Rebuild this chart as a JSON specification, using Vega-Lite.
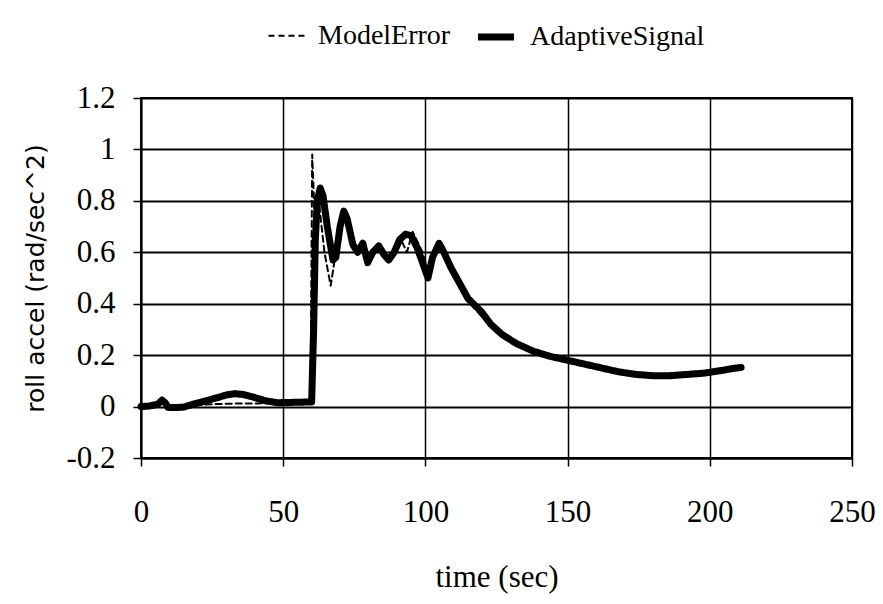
{
  "$schema": "https://vega.github.io/schema/vega-lite/v6.json",
  "width": 711,
  "height": 360,
  "autosize": {"type": "none"},
  "padding": {"left": 141, "top": 98, "right": 31, "bottom": 146},
  "background": "white",
  "config": {
    "view": {"stroke": "black", "strokeWidth": 2},
    "axis": {"gridColor": "black", "domainColor": "black", "tickColor": "black", "labelColor": "black", "titleColor": "black"}
  },
  "data": {
    "values": [
      {"series": "AdaptiveSignal", "t": 0, "v": 0},
      {"series": "AdaptiveSignal", "t": 3, "v": 0.002},
      {"series": "AdaptiveSignal", "t": 6, "v": 0.01},
      {"series": "AdaptiveSignal", "t": 7.4, "v": 0.025},
      {"series": "AdaptiveSignal", "t": 8.5, "v": 0.015},
      {"series": "AdaptiveSignal", "t": 9.5, "v": -0.003},
      {"series": "AdaptiveSignal", "t": 12, "v": -0.004},
      {"series": "AdaptiveSignal", "t": 15, "v": -0.002},
      {"series": "AdaptiveSignal", "t": 18, "v": 0.008},
      {"series": "AdaptiveSignal", "t": 22, "v": 0.02},
      {"series": "AdaptiveSignal", "t": 26, "v": 0.032},
      {"series": "AdaptiveSignal", "t": 30, "v": 0.045},
      {"series": "AdaptiveSignal", "t": 33, "v": 0.05},
      {"series": "AdaptiveSignal", "t": 36, "v": 0.047},
      {"series": "AdaptiveSignal", "t": 40, "v": 0.035},
      {"series": "AdaptiveSignal", "t": 44, "v": 0.022},
      {"series": "AdaptiveSignal", "t": 48, "v": 0.015},
      {"series": "AdaptiveSignal", "t": 52, "v": 0.016},
      {"series": "AdaptiveSignal", "t": 56, "v": 0.017},
      {"series": "AdaptiveSignal", "t": 60, "v": 0.018},
      {"series": "AdaptiveSignal", "t": 60.7, "v": 0.3},
      {"series": "AdaptiveSignal", "t": 61.3, "v": 0.65},
      {"series": "AdaptiveSignal", "t": 62, "v": 0.8},
      {"series": "AdaptiveSignal", "t": 63, "v": 0.85},
      {"series": "AdaptiveSignal", "t": 64, "v": 0.82},
      {"series": "AdaptiveSignal", "t": 65.5, "v": 0.7},
      {"series": "AdaptiveSignal", "t": 67.5, "v": 0.57},
      {"series": "AdaptiveSignal", "t": 68.5, "v": 0.58},
      {"series": "AdaptiveSignal", "t": 70, "v": 0.7},
      {"series": "AdaptiveSignal", "t": 71.3, "v": 0.76},
      {"series": "AdaptiveSignal", "t": 72.5, "v": 0.73},
      {"series": "AdaptiveSignal", "t": 74.5, "v": 0.63},
      {"series": "AdaptiveSignal", "t": 76.2, "v": 0.6},
      {"series": "AdaptiveSignal", "t": 78, "v": 0.635},
      {"series": "AdaptiveSignal", "t": 79.7, "v": 0.56},
      {"series": "AdaptiveSignal", "t": 81.5, "v": 0.6},
      {"series": "AdaptiveSignal", "t": 83.6, "v": 0.625},
      {"series": "AdaptiveSignal", "t": 85.5, "v": 0.59},
      {"series": "AdaptiveSignal", "t": 87.1, "v": 0.57},
      {"series": "AdaptiveSignal", "t": 89, "v": 0.6},
      {"series": "AdaptiveSignal", "t": 91, "v": 0.65},
      {"series": "AdaptiveSignal", "t": 93, "v": 0.67},
      {"series": "AdaptiveSignal", "t": 95, "v": 0.665},
      {"series": "AdaptiveSignal", "t": 97, "v": 0.62},
      {"series": "AdaptiveSignal", "t": 99, "v": 0.56},
      {"series": "AdaptiveSignal", "t": 100.9, "v": 0.5},
      {"series": "AdaptiveSignal", "t": 102.5, "v": 0.58},
      {"series": "AdaptiveSignal", "t": 104.8, "v": 0.635},
      {"series": "AdaptiveSignal", "t": 106.5, "v": 0.6},
      {"series": "AdaptiveSignal", "t": 109, "v": 0.54},
      {"series": "AdaptiveSignal", "t": 111.5, "v": 0.49},
      {"series": "AdaptiveSignal", "t": 115, "v": 0.42},
      {"series": "AdaptiveSignal", "t": 119.6, "v": 0.37},
      {"series": "AdaptiveSignal", "t": 123, "v": 0.32},
      {"series": "AdaptiveSignal", "t": 127, "v": 0.28},
      {"series": "AdaptiveSignal", "t": 132, "v": 0.245},
      {"series": "AdaptiveSignal", "t": 138, "v": 0.215},
      {"series": "AdaptiveSignal", "t": 144, "v": 0.195},
      {"series": "AdaptiveSignal", "t": 150, "v": 0.18},
      {"series": "AdaptiveSignal", "t": 156, "v": 0.165},
      {"series": "AdaptiveSignal", "t": 162, "v": 0.15},
      {"series": "AdaptiveSignal", "t": 168, "v": 0.135},
      {"series": "AdaptiveSignal", "t": 174, "v": 0.125},
      {"series": "AdaptiveSignal", "t": 180, "v": 0.12},
      {"series": "AdaptiveSignal", "t": 186, "v": 0.12},
      {"series": "AdaptiveSignal", "t": 192, "v": 0.125},
      {"series": "AdaptiveSignal", "t": 198, "v": 0.13},
      {"series": "AdaptiveSignal", "t": 204, "v": 0.14},
      {"series": "AdaptiveSignal", "t": 208, "v": 0.148},
      {"series": "AdaptiveSignal", "t": 211, "v": 0.152},
      {"series": "ModelError", "t": 0, "v": 0},
      {"series": "ModelError", "t": 6, "v": 0.01},
      {"series": "ModelError", "t": 7.4, "v": 0.025},
      {"series": "ModelError", "t": 9.5, "v": -0.003},
      {"series": "ModelError", "t": 15, "v": -0.002},
      {"series": "ModelError", "t": 20, "v": 0.006},
      {"series": "ModelError", "t": 27, "v": 0.01},
      {"series": "ModelError", "t": 34, "v": 0.012},
      {"series": "ModelError", "t": 41, "v": 0.012},
      {"series": "ModelError", "t": 48, "v": 0.015},
      {"series": "ModelError", "t": 56, "v": 0.017},
      {"series": "ModelError", "t": 59.6, "v": 0.018},
      {"series": "ModelError", "t": 60.2, "v": 0.98},
      {"series": "ModelError", "t": 61, "v": 0.75},
      {"series": "ModelError", "t": 62.5, "v": 0.8},
      {"series": "ModelError", "t": 64.5, "v": 0.6},
      {"series": "ModelError", "t": 66.7, "v": 0.47},
      {"series": "ModelError", "t": 68.5, "v": 0.6},
      {"series": "ModelError", "t": 71.3, "v": 0.75},
      {"series": "ModelError", "t": 74.5, "v": 0.62},
      {"series": "ModelError", "t": 76.2, "v": 0.6},
      {"series": "ModelError", "t": 78, "v": 0.63},
      {"series": "ModelError", "t": 79.7, "v": 0.56},
      {"series": "ModelError", "t": 83.6, "v": 0.62},
      {"series": "ModelError", "t": 87.1, "v": 0.57},
      {"series": "ModelError", "t": 91, "v": 0.66},
      {"series": "ModelError", "t": 93.5, "v": 0.6},
      {"series": "ModelError", "t": 95.5, "v": 0.68},
      {"series": "ModelError", "t": 99, "v": 0.6},
      {"series": "ModelError", "t": 101, "v": 0.52},
      {"series": "ModelError", "t": 104.8, "v": 0.64},
      {"series": "ModelError", "t": 109, "v": 0.53},
      {"series": "ModelError", "t": 115, "v": 0.41},
      {"series": "ModelError", "t": 123, "v": 0.31},
      {"series": "ModelError", "t": 132, "v": 0.24},
      {"series": "ModelError", "t": 144, "v": 0.195},
      {"series": "ModelError", "t": 162, "v": 0.15},
      {"series": "ModelError", "t": 180, "v": 0.12},
      {"series": "ModelError", "t": 198, "v": 0.13},
      {"series": "ModelError", "t": 211, "v": 0.152}
    ]
  },
  "mark": {"type": "line", "color": "black", "strokeJoin": "round", "strokeCap": "round"},
  "encoding": {
    "x": {
      "field": "t", "type": "quantitative",
      "scale": {"domain": [0, 250], "nice": false},
      "axis": {
        "values": [0, 50, 100, 150, 200, 250],
        "title": "time (sec)",
        "titleFont": "Liberation Serif", "titleFontSize": 31, "titleFontWeight": "normal",
        "titleX": 355.5, "titleY": 119, "titleBaseline": "middle", "titleAlign": "center",
        "labelFont": "Liberation Sans Narrow", "labelFontSize": 31,
        "labelBaseline": "middle", "labelPadding": 46, "tickSize": 8, "tickWidth": 1.5,
        "domainWidth": 2, "gridWidth": 1.5, "labelFlush": false, "labelOverlap": false
      }
    },
    "y": {
      "field": "v", "type": "quantitative",
      "scale": {"domain": [-0.2, 1.2], "nice": false, "zero": false},
      "axis": {
        "values": [-0.2, 0, 0.2, 0.4, 0.6, 0.8, 1, 1.2],
        "labelExpr": "datum.value < 0 ? '-' + format(-datum.value, '~g') : format(datum.value, '~g')",
        "title": "roll accel (rad/sec^2)",
        "titleFont": "DejaVu Sans", "titleFontSize": 25, "titleFontWeight": "normal",
        "titleX": -106, "titleY": 180, "titleAngle": 270, "titleBaseline": "middle", "titleAlign": "center",
        "labelFont": "Liberation Sans Narrow", "labelFontSize": 31,
        "labelPadding": 18, "tickSize": 8, "tickWidth": 1.5,
        "domainWidth": 2, "gridWidth": 2, "labelFlush": false, "labelOverlap": false
      }
    },
    "strokeDash": {
      "field": "series", "type": "nominal",
      "scale": {"domain": ["ModelError", "AdaptiveSignal"], "range": [[6, 4], [1, 0]]},
      "legend": {
        "title": null, "orient": "none", "direction": "horizontal",
        "legendX": 126, "legendY": -83,
        "symbolType": "stroke", "symbolSize": 1300, "symbolStrokeColor": "black",
        "labelFont": "Liberation Serif", "labelFontSize": 28, "labelColor": "black",
        "labelOffset": 12, "columnPadding": 12, "labelLimit": 300
      }
    },
    "strokeWidth": {
      "field": "series", "type": "nominal",
      "scale": {"domain": ["ModelError", "AdaptiveSignal"], "range": [2, 7]},
      "legend": {
        "title": null, "orient": "none", "direction": "horizontal",
        "legendX": 126, "legendY": -83,
        "symbolType": "stroke", "symbolSize": 1300, "symbolStrokeColor": "black",
        "labelFont": "Liberation Serif", "labelFontSize": 28, "labelColor": "black",
        "labelOffset": 12, "columnPadding": 12, "labelLimit": 300
      }
    },
    "order": {"field": "t", "type": "quantitative"}
  }
}
